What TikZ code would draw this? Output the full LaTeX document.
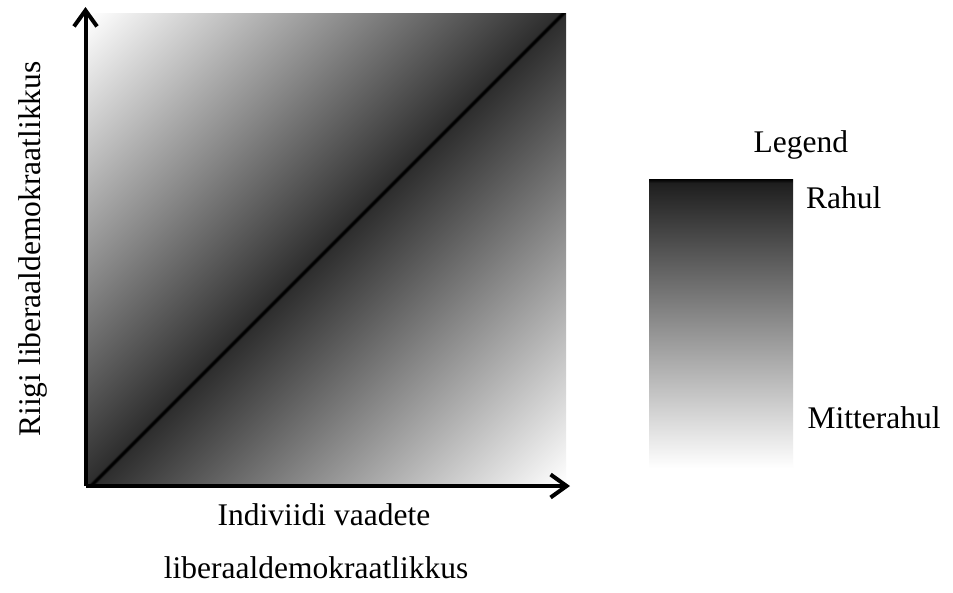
\documentclass[tikz,border=0pt]{standalone}
\usepackage{fontspec}
\setmainfont{Liberation Serif}
\usetikzlibrary{arrows.meta}
\colorlet{diagdark}{black!82}
\colorlet{legdark}{black!88}
\pgfdeclareverticalshading{diagshade}{100bp}{color(0bp)=(white); color(14.64bp)=(white); color(49.72bp)=(diagdark); color(49.9bp)=(black); color(50.1bp)=(black); color(50.28bp)=(diagdark); color(85.36bp)=(white); color(100bp)=(white)}
\pgfdeclareverticalshading{legendshade}{100bp}{color(0bp)=(white); color(25bp)=(white); color(74.3bp)=(legdark); color(75bp)=(black); color(100bp)=(black)}
\tikzset{
  fieldbox/.style={inner sep=0pt, minimum width=479pt, minimum height=473pt, shading=diagshade, shading angle=45},
  legendbar/.style={inner sep=0pt, minimum width=144pt, minimum height=289pt, shading=legendshade},
  axisline/.style={line width=4pt, -{Straight Barb[length=16pt,width=23pt]}},
  lbl/.style={inner sep=0pt, text=black}
}
\begin{document}
\begin{tikzpicture}[x=1pt, y=-1pt, font=\fontsize{31.5}{38}\selectfont]
\useasboundingbox[fill=white] (0,0) rectangle (953,592);
\node[fieldbox] (field) at (326.5,249.5) {};
\node[legendbar] (legend) at (721,323.5) {};
\coordinate (O) at (85.5,486);
\coordinate (ytip) at (85.5,7);
\coordinate (xtip) at (570,486);
\draw[axisline] (O) -- (ytip);
\draw[axisline] (O) -- (xtip);
\node[lbl, anchor=base] (legtitle) at (800.8,152) {Legend};
\node[lbl, anchor=base west] (rahul) at (806,208.3) {Rahul};
\node[lbl, anchor=base west] (mitte) at (807.5,428.3) {Mitterahul};
\node[lbl, anchor=base west] (xlab1) at (217.5,525.7) {Indiviidi vaadete};
\node[lbl, anchor=base east] (xlab2) at (468.5,578) {liberaaldemokraatlikkus};
\node[lbl, anchor=base, rotate=90] (ylab) at (40,249) {Riigi liberaaldemokraatlikkus};
\end{tikzpicture}
\end{document}
